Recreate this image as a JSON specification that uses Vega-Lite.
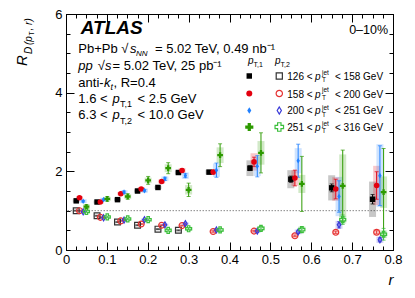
{
 "$schema": "https://vega.github.io/schema/vega-lite/v6.json",
 "width": 327, "height": 236,
 "autosize": {"type": "none"},
 "padding": {"left": 66, "top": 14, "right": 22, "bottom": 48},
 "background": "white",
 "data": {"values": [{}]},
 "datasets": {
  "pts": [
   {"k":"a1","r":0.025,"R":1.25,"e":0.02,"s":0.04},{"k":"a1","r":0.076,"R":1.22,"e":0.02,"s":0.04},{"k":"a1","r":0.126,"R":1.28,"e":0.02,"s":0.04},{"k":"a1","r":0.175,"R":1.50,"e":0.02,"s":0.04},{"k":"a1","r":0.225,"R":1.59,"e":0.02,"s":0.04},{"k":"a1","r":0.275,"R":1.97,"e":0.03,"s":0.05},{"k":"a1","r":0.35,"R":1.98,"e":0.04,"s":0.06},{"k":"a1","r":0.45,"R":2.08,"e":0.06,"s":0.2},{"k":"a1","r":0.55,"R":1.80,"e":0.08,"s":0.23},{"k":"a1","r":0.65,"R":1.58,"e":0.1,"s":0.32},{"k":"a1","r":0.75,"R":1.29,"e":0.12,"s":0.45},
   {"k":"b1","r":0.033,"R":1.33,"e":0.02,"s":0.04},{"k":"b1","r":0.084,"R":1.22,"e":0.02,"s":0.04},{"k":"b1","r":0.134,"R":1.43,"e":0.03,"s":0.04},{"k":"b1","r":0.184,"R":1.55,"e":0.03,"s":0.05},{"k":"b1","r":0.234,"R":1.74,"e":0.03,"s":0.05},{"k":"b1","r":0.284,"R":2.02,"e":0.04,"s":0.06},{"k":"b1","r":0.36,"R":1.98,"e":0.05,"s":0.06},{"k":"b1","r":0.46,"R":2.24,"e":0.12,"s":0.22},{"k":"b1","r":0.56,"R":1.83,"e":0.2,"s":0.2},{"k":"b1","r":0.66,"R":1.55,"e":0.25,"s":0.3},{"k":"b1","r":0.76,"R":1.64,"e":0.35,"s":0.5},
   {"k":"c1","r":0.042,"R":1.24,"e":0.02,"s":0.05},{"k":"c1","r":0.092,"R":1.28,"e":0.02,"s":0.05},{"k":"c1","r":0.142,"R":1.47,"e":0.03,"s":0.05},{"k":"c1","r":0.192,"R":1.51,"e":0.03,"s":0.05},{"k":"c1","r":0.242,"R":1.81,"e":0.04,"s":0.06},{"k":"c1","r":0.292,"R":1.89,"e":0.05,"s":0.08},{"k":"c1","r":0.368,"R":2.03,"e":0.18,"s":0.17},{"k":"c1","r":0.468,"R":2.13,"e":0.27,"s":0.25},{"k":"c1","r":0.568,"R":2.27,"e":0.42,"s":0.32},{"k":"c1","r":0.668,"R":1.36,"e":0.4,"s":0.5},{"k":"c1","r":0.768,"R":1.89,"e":0.76,"s":0.8},
   {"k":"d1","r":0.05,"R":1.10,"e":0.05,"s":0.06},{"k":"d1","r":0.101,"R":1.30,"e":0.06,"s":0.05},{"k":"d1","r":0.151,"R":1.36,"e":0.07,"s":0.06},{"k":"d1","r":0.201,"R":1.77,"e":0.1,"s":0.07},{"k":"d1","r":0.25,"R":2.08,"e":0.14,"s":0.1},{"k":"d1","r":0.3,"R":1.53,"e":0.17,"s":0.12},{"k":"d1","r":0.377,"R":2.41,"e":0.29,"s":0.2},{"k":"d1","r":0.477,"R":2.47,"e":0.51,"s":0.3},{"k":"d1","r":0.577,"R":1.68,"e":0.7,"s":0.23},{"k":"d1","r":0.677,"R":1.63,"e":0.91,"s":0.8},{"k":"d1","r":0.777,"R":1.47,"e":1.11,"s":0.4},
   {"k":"a2","r":0.025,"R":1.00,"e":0.01,"s":0.03},{"k":"a2","r":0.076,"R":0.87,"e":0.01,"s":0.03},{"k":"a2","r":0.126,"R":0.71,"e":0.01,"s":0.03},{"k":"a2","r":0.175,"R":0.63,"e":0.01,"s":0.03},{"k":"a2","r":0.225,"R":0.53,"e":0.01,"s":0.03},{"k":"a2","r":0.275,"R":0.50,"e":0.01,"s":0.03},
   {"k":"b2","r":0.033,"R":1.00,"e":0.01,"s":0.03},{"k":"b2","r":0.084,"R":0.83,"e":0.01,"s":0.03},{"k":"b2","r":0.134,"R":0.74,"e":0.01,"s":0.03},{"k":"b2","r":0.184,"R":0.66,"e":0.01,"s":0.03},{"k":"b2","r":0.234,"R":0.63,"e":0.01,"s":0.03},{"k":"b2","r":0.284,"R":0.62,"e":0.01,"s":0.03},{"k":"b2","r":0.36,"R":0.47,"e":0.02,"s":0.03},{"k":"b2","r":0.46,"R":0.48,"e":0.02,"s":0.04},{"k":"b2","r":0.56,"R":0.36,"e":0.02,"s":0.05},{"k":"b2","r":0.66,"R":0.45,"e":0.03,"s":0.06},{"k":"b2","r":0.76,"R":0.45,"e":0.04,"s":0.08},
   {"k":"c2","r":0.042,"R":0.97,"e":0.01,"s":0.03},{"k":"c2","r":0.092,"R":0.82,"e":0.01,"s":0.03},{"k":"c2","r":0.142,"R":0.76,"e":0.01,"s":0.03},{"k":"c2","r":0.192,"R":0.77,"e":0.01,"s":0.03},{"k":"c2","r":0.242,"R":0.64,"e":0.01,"s":0.03},{"k":"c2","r":0.292,"R":0.67,"e":0.02,"s":0.03},{"k":"c2","r":0.368,"R":0.51,"e":0.02,"s":0.04},{"k":"c2","r":0.468,"R":0.48,"e":0.03,"s":0.04},{"k":"c2","r":0.568,"R":0.46,"e":0.04,"s":0.06},{"k":"c2","r":0.668,"R":0.64,"e":0.08,"s":0.1},{"k":"c2","r":0.768,"R":0.26,"e":0.05,"s":0.08},
   {"k":"d2","r":0.05,"R":0.98,"e":0.02,"s":0.03},{"k":"d2","r":0.101,"R":0.84,"e":0.02,"s":0.03},{"k":"d2","r":0.151,"R":0.79,"e":0.02,"s":0.03},{"k":"d2","r":0.201,"R":0.77,"e":0.02,"s":0.04},{"k":"d2","r":0.25,"R":0.50,"e":0.02,"s":0.04},{"k":"d2","r":0.3,"R":0.54,"e":0.03,"s":0.05},{"k":"d2","r":0.377,"R":0.51,"e":0.04,"s":0.05},{"k":"d2","r":0.477,"R":0.55,"e":0.05,"s":0.06},{"k":"d2","r":0.577,"R":0.52,"e":0.07,"s":0.08},{"k":"d2","r":0.677,"R":0.77,"e":0.12,"s":0.1},{"k":"d2","r":0.777,"R":0.40,"e":0.15,"s":0.1}
  ]
 },
 "config": {
  "view": {"stroke": "black", "strokeWidth": 1},
  "axis": {"domain": false, "grid": false, "tickColor": "black", "labelColor": "black", "labelFont": "Liberation Sans", "labelFontSize": 13, "titleFont": "Liberation Sans", "titleColor": "black", "labelFlush": false, "labelOverlap": false, "tickWidth": 1},
  "text": {"font": "Liberation Sans", "fontSize": 13, "align": "left", "baseline": "alphabetic", "color": "black"}
 },
 "resolve": {"axis": {"x": "independent", "y": "independent"}},
 "layer": [
  {"mark": {"type": "rule", "color": "#888888", "strokeDash": [1.5, 1.5], "strokeWidth": 1},
   "encoding": {"y": {"datum": 1, "type": "quantitative", "axis": null}}},
  {"data": {"name": "pts"},
   "mark": {"type": "errorbar", "rule": {"strokeWidth": 7, "opacity": 0.22}},
   "encoding": {
    "x": {"field": "r", "type": "quantitative", "scale": {"domain": [0, 0.8], "nice": false, "zero": false},
          "axis": {"orient": "bottom", "values": [0,0.1,0.2,0.3,0.4,0.5,0.6,0.7,0.8], "tickSize": -8, "labelPadding": 11, "format": "~g", "title": "r", "titleFontStyle": "italic", "titleFontWeight": "normal", "titleFontSize": 15, "titleAnchor": "end", "titlePadding": 6}},
    "y": {"field": "R", "type": "quantitative", "scale": {"domain": [0, 6], "nice": false, "zero": false},
          "axis": {"orient": "left", "values": [0,2,4,6], "tickSize": -8, "labelPadding": 12, "format": "~g", "title": null}},
    "yError": {"field": "s"},
    "color": {"field": "k", "type": "nominal", "legend": null,
              "scale": {"domain": ["a1","b1","c1","d1","a2","b2","c2","d2"], "range": ["#000000","#e3000f","#2080ff","#2d9a00","#333333","#e63232","#3a3ad8","#3cbf3c"]}}
   }},
  {"data": {"name": "pts"},
   "mark": {"type": "errorbar", "ticks": {"size": 4}, "rule": {"strokeWidth": 1}},
   "encoding": {
    "x": {"field": "r", "type": "quantitative",
          "axis": {"orient": "bottom", "values": [0,0.025,0.05,0.075,0.1,0.125,0.15,0.175,0.2,0.225,0.25,0.275,0.3,0.325,0.35,0.375,0.4,0.425,0.45,0.475,0.5,0.525,0.55,0.575,0.6,0.625,0.65,0.675,0.7,0.725,0.75,0.775,0.8], "tickSize": -4, "labels": false, "title": null}},
    "y": {"field": "R", "type": "quantitative",
          "axis": {"orient": "left", "values": [0,0.5,1,1.5,2,2.5,3,3.5,4,4.5,5,5.5,6], "tickSize": -4, "labels": false, "title": null}},
    "yError": {"field": "e"},
    "color": {"field": "k", "type": "nominal", "legend": null}
   }},
  {"data": {"name": "pts"},
   "transform": [{"filter": {"field": "k", "oneOf": ["a2","b2","c2","d2"]}}],
   "mark": {"type": "point", "filled": false, "opacity": 1, "strokeWidth": 1.2},
   "encoding": {
    "x": {"field": "r", "type": "quantitative",
          "axis": {"orient": "top", "values": [0,0.1,0.2,0.3,0.4,0.5,0.6,0.7,0.8], "tickSize": -8, "labels": false, "title": null}},
    "y": {"field": "R", "type": "quantitative",
          "axis": {"orient": "right", "values": [0,2,4,6], "tickSize": -8, "labels": false, "title": null}},
    "color": {"field": "k", "type": "nominal", "legend": null},
    "shape": {"field": "k", "type": "nominal", "legend": null,
              "scale": {"domain": ["a1","b1","c1","d1","a2","b2","c2","d2"], "range": ["square","circle","M0,-1L0.6,0L0,1L-0.6,0Z","cross","square","circle","M0,-1L0.6,0L0,1L-0.6,0Z","cross"]}},
    "size": {"field": "k", "type": "nominal", "legend": null,
             "scale": {"domain": ["a1","b1","c1","d1","a2","b2","c2","d2"], "range": [30,36,45,66,38,40,50,72]}}
   }},
  {"data": {"name": "pts"},
   "transform": [{"filter": {"field": "k", "oneOf": ["a1","b1","c1","d1"]}}],
   "mark": {"type": "point", "filled": true, "opacity": 1},
   "encoding": {
    "x": {"field": "r", "type": "quantitative",
          "axis": {"orient": "top", "values": [0,0.025,0.05,0.075,0.1,0.125,0.15,0.175,0.2,0.225,0.25,0.275,0.3,0.325,0.35,0.375,0.4,0.425,0.45,0.475,0.5,0.525,0.55,0.575,0.6,0.625,0.65,0.675,0.7,0.725,0.75,0.775,0.8], "tickSize": -4, "labels": false, "title": null}},
    "y": {"field": "R", "type": "quantitative",
          "axis": {"orient": "right", "values": [0,0.5,1,1.5,2,2.5,3,3.5,4,4.5,5,5.5,6], "tickSize": -4, "labels": false, "title": null}},
    "color": {"field": "k", "type": "nominal", "legend": null},
    "shape": {"field": "k", "type": "nominal", "legend": null},
    "size": {"field": "k", "type": "nominal", "legend": null}
   }},

  {"mark": {"type": "text", "fontSize": 19, "fontWeight": "bold", "fontStyle": "italic"}, "encoding": {"x": {"datum": 0.036, "type": "quantitative", "axis": null}, "y": {"datum": 5.5, "type": "quantitative", "axis": null}, "text": {"value": "ATLAS"}}},
  {"mark": {"type": "text", "fontSize": 12.5, "align": "right"}, "encoding": {"x": {"datum": 0.788, "type": "quantitative", "axis": null}, "y": {"datum": 5.49, "type": "quantitative", "axis": null}, "text": {"value": "0–10%"}}},

  {"mark": {"type": "text"}, "encoding": {"x": {"datum": 0.0301, "type": "quantitative", "axis": null}, "y": {"datum": 5.0, "type": "quantitative", "axis": null}, "text": {"value": "Pb+Pb √"}}},
  {"mark": {"type": "text", "fontStyle": "italic"}, "encoding": {"x": {"datum": 0.1566, "type": "quantitative", "axis": null}, "y": {"datum": 5.0, "type": "quantitative", "axis": null}, "text": {"value": "s"}}},
  {"mark": {"type": "text", "fontStyle": "italic", "fontSize": 8}, "encoding": {"x": {"datum": 0.1713, "type": "quantitative", "axis": null}, "y": {"datum": 4.92, "type": "quantitative", "axis": null}, "text": {"value": "NN"}}},
  {"mark": {"type": "text"}, "encoding": {"x": {"datum": 0.2177, "type": "quantitative", "axis": null}, "y": {"datum": 5.0, "type": "quantitative", "axis": null}, "text": {"value": "= 5.02 TeV, 0.49 nb⁻¹"}}},

  {"mark": {"type": "text", "fontStyle": "italic"}, "encoding": {"x": {"datum": 0.0301, "type": "quantitative", "axis": null}, "y": {"datum": 4.577, "type": "quantitative", "axis": null}, "text": {"value": "pp"}}},
  {"mark": {"type": "text"}, "encoding": {"x": {"datum": 0.0776, "type": "quantitative", "axis": null}, "y": {"datum": 4.577, "type": "quantitative", "axis": null}, "text": {"value": "√"}}},
  {"mark": {"type": "text", "fontStyle": "italic"}, "encoding": {"x": {"datum": 0.0954, "type": "quantitative", "axis": null}, "y": {"datum": 4.577, "type": "quantitative", "axis": null}, "text": {"value": "s"}}},
  {"mark": {"type": "text"}, "encoding": {"x": {"datum": 0.1138, "type": "quantitative", "axis": null}, "y": {"datum": 4.577, "type": "quantitative", "axis": null}, "text": {"value": "= 5.02 TeV, 25 pb⁻¹"}}},

  {"mark": {"type": "text"}, "encoding": {"x": {"datum": 0.0301, "type": "quantitative", "axis": null}, "y": {"datum": 4.137, "type": "quantitative", "axis": null}, "text": {"value": "anti-"}}},
  {"mark": {"type": "text", "fontStyle": "italic"}, "encoding": {"x": {"datum": 0.093, "type": "quantitative", "axis": null}, "y": {"datum": 4.137, "type": "quantitative", "axis": null}, "text": {"value": "k"}}},
  {"mark": {"type": "text", "fontStyle": "italic", "fontSize": 9}, "encoding": {"x": {"datum": 0.1089, "type": "quantitative", "axis": null}, "y": {"datum": 4.056, "type": "quantitative", "axis": null}, "text": {"value": "t"}}},
  {"mark": {"type": "text"}, "encoding": {"x": {"datum": 0.1162, "type": "quantitative", "axis": null}, "y": {"datum": 4.137, "type": "quantitative", "axis": null}, "text": {"value": ", R=0.4"}}},

  {"mark": {"type": "text"}, "encoding": {"x": {"datum": 0.0301, "type": "quantitative", "axis": null}, "y": {"datum": 3.725, "type": "quantitative", "axis": null}, "text": {"value": "1.6 <"}}},
  {"mark": {"type": "text", "fontStyle": "italic"}, "encoding": {"x": {"datum": 0.1138, "type": "quantitative", "axis": null}, "y": {"datum": 3.725, "type": "quantitative", "axis": null}, "text": {"value": "p"}}},
  {"mark": {"type": "text", "fontSize": 9}, "encoding": {"x": {"datum": 0.1321, "type": "quantitative", "axis": null}, "y": {"datum": 3.623, "type": "quantitative", "axis": null}, "text": {"value": "T,1"}}},
  {"mark": {"type": "text"}, "encoding": {"x": {"datum": 0.1749, "type": "quantitative", "axis": null}, "y": {"datum": 3.725, "type": "quantitative", "axis": null}, "text": {"value": "< 2.5 GeV"}}},

  {"mark": {"type": "text"}, "encoding": {"x": {"datum": 0.0301, "type": "quantitative", "axis": null}, "y": {"datum": 3.318, "type": "quantitative", "axis": null}, "text": {"value": "6.3 <"}}},
  {"mark": {"type": "text", "fontStyle": "italic"}, "encoding": {"x": {"datum": 0.1138, "type": "quantitative", "axis": null}, "y": {"datum": 3.318, "type": "quantitative", "axis": null}, "text": {"value": "p"}}},
  {"mark": {"type": "text", "fontSize": 9}, "encoding": {"x": {"datum": 0.1321, "type": "quantitative", "axis": null}, "y": {"datum": 3.216, "type": "quantitative", "axis": null}, "text": {"value": "T,2"}}},
  {"mark": {"type": "text"}, "encoding": {"x": {"datum": 0.1749, "type": "quantitative", "axis": null}, "y": {"datum": 3.318, "type": "quantitative", "axis": null}, "text": {"value": "< 10.0 GeV"}}},

  {"mark": {"type": "text", "fontStyle": "italic", "fontSize": 10}, "encoding": {"x": {"datum": 0.445, "type": "quantitative", "axis": null}, "y": {"datum": 4.729, "type": "quantitative", "axis": null}, "text": {"value": "p"}}},
  {"mark": {"type": "text", "fontSize": 7}, "encoding": {"x": {"datum": 0.4587, "type": "quantitative", "axis": null}, "y": {"datum": 4.64, "type": "quantitative", "axis": null}, "text": {"value": "T,1"}}},
  {"mark": {"type": "text", "fontStyle": "italic", "fontSize": 10}, "encoding": {"x": {"datum": 0.5113, "type": "quantitative", "axis": null}, "y": {"datum": 4.729, "type": "quantitative", "axis": null}, "text": {"value": "p"}}},
  {"mark": {"type": "text", "fontSize": 7}, "encoding": {"x": {"datum": 0.5248, "type": "quantitative", "axis": null}, "y": {"datum": 4.64, "type": "quantitative", "axis": null}, "text": {"value": "T,2"}}},

  {"mark": {"type": "point", "shape": "square", "filled": true, "color": "#000000", "size": 30, "opacity": 1}, "encoding": {"x": {"datum": 0.4484, "type": "quantitative", "axis": null}, "y": {"datum": 4.424, "type": "quantitative", "axis": null}}},
  {"mark": {"type": "point", "shape": "square", "filled": false, "color": "#333333", "size": 38, "strokeWidth": 1.2, "opacity": 1}, "encoding": {"x": {"datum": 0.5218, "type": "quantitative", "axis": null}, "y": {"datum": 4.424, "type": "quantitative", "axis": null}}},
  {"mark": {"type": "text", "fontSize": 10}, "encoding": {"x": {"datum": 0.5414, "type": "quantitative", "axis": null}, "y": {"datum": 4.322, "type": "quantitative", "axis": null}, "text": {"value": "126 <"}}},
  {"mark": {"type": "text", "fontSize": 10, "fontStyle": "italic"}, "encoding": {"x": {"datum": 0.6092, "type": "quantitative", "axis": null}, "y": {"datum": 4.322, "type": "quantitative", "axis": null}, "text": {"value": "p"}}},
  {"mark": {"type": "text", "fontSize": 6.5}, "encoding": {"x": {"datum": 0.6263, "type": "quantitative", "axis": null}, "y": {"datum": 4.45, "type": "quantitative", "axis": null}, "text": {"value": "jet"}}},
  {"mark": {"type": "text", "fontSize": 6.5}, "encoding": {"x": {"datum": 0.6263, "type": "quantitative", "axis": null}, "y": {"datum": 4.259, "type": "quantitative", "axis": null}, "text": {"value": "T"}}},
  {"mark": {"type": "text", "fontSize": 10}, "encoding": {"x": {"datum": 0.6581, "type": "quantitative", "axis": null}, "y": {"datum": 4.322, "type": "quantitative", "axis": null}, "text": {"value": "< 158 GeV"}}},

  {"mark": {"type": "point", "shape": "circle", "filled": true, "color": "#e3000f", "size": 36, "opacity": 1}, "encoding": {"x": {"datum": 0.4484, "type": "quantitative", "axis": null}, "y": {"datum": 3.979, "type": "quantitative", "axis": null}}},
  {"mark": {"type": "point", "shape": "circle", "filled": false, "color": "#e63232", "size": 40, "strokeWidth": 1.2, "opacity": 1}, "encoding": {"x": {"datum": 0.5218, "type": "quantitative", "axis": null}, "y": {"datum": 3.979, "type": "quantitative", "axis": null}}},
  {"mark": {"type": "text", "fontSize": 10}, "encoding": {"x": {"datum": 0.5414, "type": "quantitative", "axis": null}, "y": {"datum": 3.877, "type": "quantitative", "axis": null}, "text": {"value": "158 <"}}},
  {"mark": {"type": "text", "fontSize": 10, "fontStyle": "italic"}, "encoding": {"x": {"datum": 0.6092, "type": "quantitative", "axis": null}, "y": {"datum": 3.877, "type": "quantitative", "axis": null}, "text": {"value": "p"}}},
  {"mark": {"type": "text", "fontSize": 6.5}, "encoding": {"x": {"datum": 0.6263, "type": "quantitative", "axis": null}, "y": {"datum": 4.005, "type": "quantitative", "axis": null}, "text": {"value": "jet"}}},
  {"mark": {"type": "text", "fontSize": 6.5}, "encoding": {"x": {"datum": 0.6263, "type": "quantitative", "axis": null}, "y": {"datum": 3.814, "type": "quantitative", "axis": null}, "text": {"value": "T"}}},
  {"mark": {"type": "text", "fontSize": 10}, "encoding": {"x": {"datum": 0.6581, "type": "quantitative", "axis": null}, "y": {"datum": 3.877, "type": "quantitative", "axis": null}, "text": {"value": "< 200 GeV"}}},

  {"mark": {"type": "point", "shape": "M0,-1L0.6,0L0,1L-0.6,0Z", "filled": true, "color": "#2080ff", "size": 45, "opacity": 1}, "encoding": {"x": {"datum": 0.4484, "type": "quantitative", "axis": null}, "y": {"datum": 3.547, "type": "quantitative", "axis": null}}},
  {"mark": {"type": "point", "shape": "M0,-1L0.6,0L0,1L-0.6,0Z", "filled": false, "color": "#3a3ad8", "size": 50, "strokeWidth": 1.2, "opacity": 1}, "encoding": {"x": {"datum": 0.5218, "type": "quantitative", "axis": null}, "y": {"datum": 3.547, "type": "quantitative", "axis": null}}},
  {"mark": {"type": "text", "fontSize": 10}, "encoding": {"x": {"datum": 0.5414, "type": "quantitative", "axis": null}, "y": {"datum": 3.445, "type": "quantitative", "axis": null}, "text": {"value": "200 <"}}},
  {"mark": {"type": "text", "fontSize": 10, "fontStyle": "italic"}, "encoding": {"x": {"datum": 0.6092, "type": "quantitative", "axis": null}, "y": {"datum": 3.445, "type": "quantitative", "axis": null}, "text": {"value": "p"}}},
  {"mark": {"type": "text", "fontSize": 6.5}, "encoding": {"x": {"datum": 0.6263, "type": "quantitative", "axis": null}, "y": {"datum": 3.572, "type": "quantitative", "axis": null}, "text": {"value": "jet"}}},
  {"mark": {"type": "text", "fontSize": 6.5}, "encoding": {"x": {"datum": 0.6263, "type": "quantitative", "axis": null}, "y": {"datum": 3.382, "type": "quantitative", "axis": null}, "text": {"value": "T"}}},
  {"mark": {"type": "text", "fontSize": 10}, "encoding": {"x": {"datum": 0.6581, "type": "quantitative", "axis": null}, "y": {"datum": 3.445, "type": "quantitative", "axis": null}, "text": {"value": "< 251 GeV"}}},

  {"mark": {"type": "point", "shape": "cross", "filled": true, "color": "#2d9a00", "size": 66, "opacity": 1}, "encoding": {"x": {"datum": 0.4484, "type": "quantitative", "axis": null}, "y": {"datum": 3.127, "type": "quantitative", "axis": null}}},
  {"mark": {"type": "point", "shape": "cross", "filled": false, "color": "#3cbf3c", "size": 72, "strokeWidth": 1.2, "opacity": 1}, "encoding": {"x": {"datum": 0.5218, "type": "quantitative", "axis": null}, "y": {"datum": 3.127, "type": "quantitative", "axis": null}}},
  {"mark": {"type": "text", "fontSize": 10}, "encoding": {"x": {"datum": 0.5414, "type": "quantitative", "axis": null}, "y": {"datum": 3.026, "type": "quantitative", "axis": null}, "text": {"value": "251 <"}}},
  {"mark": {"type": "text", "fontSize": 10, "fontStyle": "italic"}, "encoding": {"x": {"datum": 0.6092, "type": "quantitative", "axis": null}, "y": {"datum": 3.026, "type": "quantitative", "axis": null}, "text": {"value": "p"}}},
  {"mark": {"type": "text", "fontSize": 6.5}, "encoding": {"x": {"datum": 0.6263, "type": "quantitative", "axis": null}, "y": {"datum": 3.153, "type": "quantitative", "axis": null}, "text": {"value": "jet"}}},
  {"mark": {"type": "text", "fontSize": 6.5}, "encoding": {"x": {"datum": 0.6263, "type": "quantitative", "axis": null}, "y": {"datum": 2.962, "type": "quantitative", "axis": null}, "text": {"value": "T"}}},
  {"mark": {"type": "text", "fontSize": 10}, "encoding": {"x": {"datum": 0.6581, "type": "quantitative", "axis": null}, "y": {"datum": 3.026, "type": "quantitative", "axis": null}, "text": {"value": "< 316 GeV"}}},

  {"mark": {"type": "text", "fontSize": 15, "fontStyle": "italic", "angle": 270}, "encoding": {"x": {"datum": -0.0954, "type": "quantitative", "axis": null}, "y": {"datum": 4.678, "type": "quantitative", "axis": null}, "text": {"value": "R"}}},
  {"mark": {"type": "text", "fontSize": 10, "fontStyle": "italic", "angle": 270}, "encoding": {"x": {"datum": -0.0832, "type": "quantitative", "axis": null}, "y": {"datum": 4.983, "type": "quantitative", "axis": null}, "text": {"value": "D"}}},
  {"mark": {"type": "text", "fontSize": 10, "fontStyle": "italic", "angle": 270}, "encoding": {"x": {"datum": -0.0832, "type": "quantitative", "axis": null}, "y": {"datum": 5.212, "type": "quantitative", "axis": null}, "text": {"value": "(p"}}},
  {"mark": {"type": "text", "fontSize": 7, "angle": 270}, "encoding": {"x": {"datum": -0.0783, "type": "quantitative", "axis": null}, "y": {"datum": 5.454, "type": "quantitative", "axis": null}, "text": {"value": "T"}}},
  {"mark": {"type": "text", "fontSize": 10, "fontStyle": "italic", "angle": 270}, "encoding": {"x": {"datum": -0.0832, "type": "quantitative", "axis": null}, "y": {"datum": 5.581, "type": "quantitative", "axis": null}, "text": {"value": ", r)"}}}
 ]
}
